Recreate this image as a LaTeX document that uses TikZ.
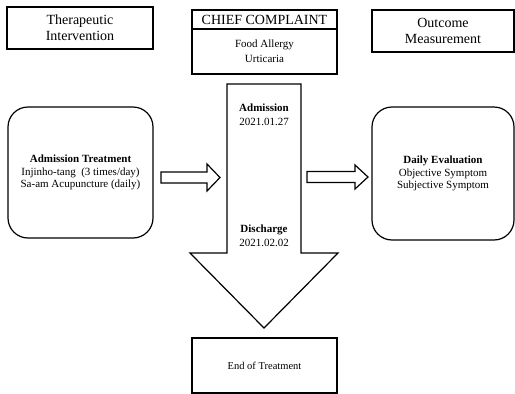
\documentclass[tikz,border=0pt]{standalone}
\usepackage{fontspec}
\setmainfont{Liberation Serif}
\usetikzlibrary{positioning}

\begin{document}
\begin{tikzpicture}[x=1pt,y=-1pt,every node/.style={align=center,inner sep=0pt,outer sep=0pt},
  box/.style={draw,line width=1.2pt,font=\fontsize{14}{16}\selectfont},
  roundbox/.style={draw,line width=1.2pt,rounded corners=20pt,minimum width=145pt,minimum height=131pt,font=\fontsize{11}{12.5}\selectfont},
  blockarrow/.style={draw,line width=1.2pt,line join=miter},
  datetext/.style={font=\fontsize{11}{14}\selectfont}]
\useasboundingbox (0,0) rectangle (515,394);
\node[box,minimum width=146pt,minimum height=42pt] (ther) at (80,28) {Therapeutic\\Intervention};
\node[box,minimum width=145pt,minimum height=19pt] (chief) at (264.5,19.5) {CHIEF COMPLAINT};
\node[box,below=0pt of chief,minimum width=145pt,minimum height=45pt,font=\fontsize{11}{15}\selectfont] (allergy) {Food Allergy\\Urticaria};
\node[box,minimum width=142pt,minimum height=42pt] (outcome) at (443,31) {Outcome\\Measurement};
\node[roundbox] (treat) at (80.5,172.5) {\textbf{Admission Treatment}\\Injinho-tang~ (3 times/day)\\Sa-am Acupuncture (daily)};
\node[roundbox,minimum width=142pt,minimum height=133pt] (eval) at (443,173.5) {\textbf{Daily Evaluation}\\Objective Symptom\\Subjective Symptom};
\draw[blockarrow] (227,84) -- (301,84) -- (301,253) -- (338,253) -- (264,328) -- (190,253) -- (227,253) -- cycle;
\draw[blockarrow] (161,172) -- (207,172) -- (207,164) -- (220,177.5) -- (207,191) -- (207,183) -- (161,183) -- cycle;
\draw[blockarrow] (307,171.5) -- (355,171.5) -- (355,165) -- (368,177) -- (355,189) -- (355,182.5) -- (307,182.5) -- cycle;
\node[datetext] (adm) at (264,115) {\textbf{Admission}\\2021.01.27};
\node[datetext] (dis) at (264,236) {\textbf{Discharge}\\2021.02.02};
\node[box,minimum width=145pt,minimum height=55pt,font=\fontsize{10.5}{12}\selectfont] (end) at (264.5,365.5) {End of Treatment};
\end{tikzpicture}
\end{document}
